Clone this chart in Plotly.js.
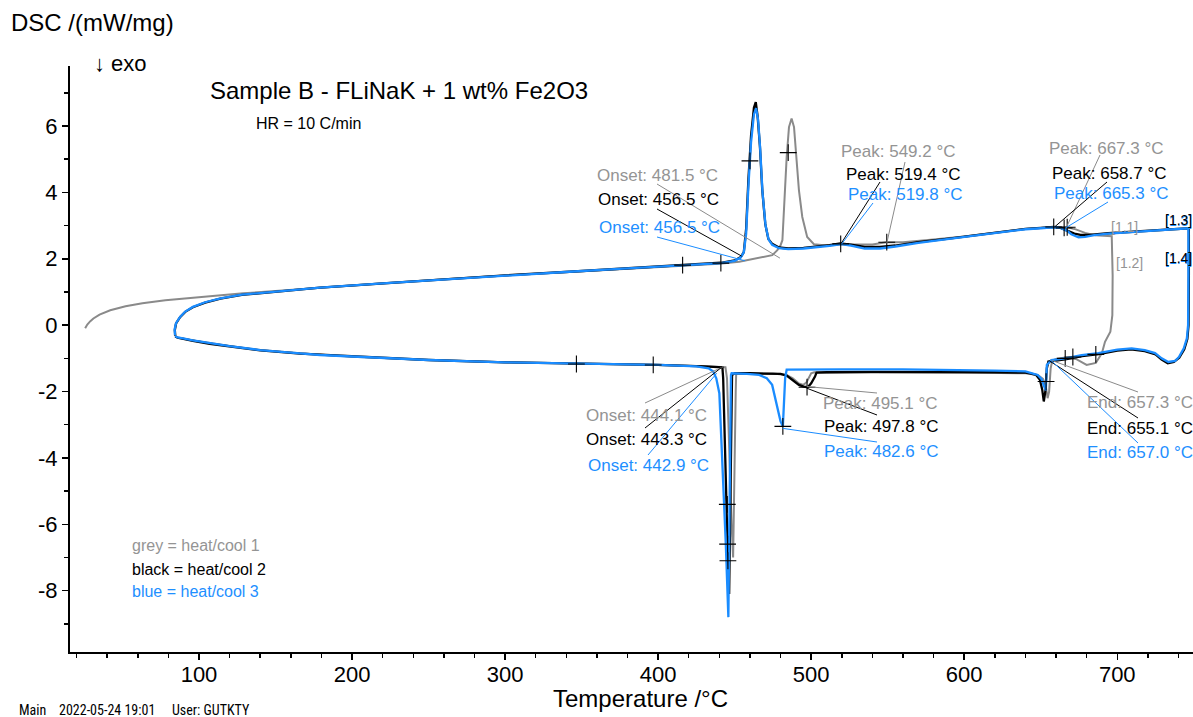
<!DOCTYPE html>
<html>
<head>
<meta charset="utf-8">
<script src="https://cdn.plot.ly/plotly-3.0.1.min.js"></script>
<style>
html,body{margin:0;padding:0;background:#fff;}
#chart{width:1193px;height:717px;}
</style>
</head>
<body>
<div id="chart"></div>
<script>
// ---------- DATA ----------
// Run 1 (grey): heating from room temperature, then cooling
const greyT = [25.6,27,29,31,35,42,52,63,78,92,110,129,150,179,220,260,300,342,380,416,440,453,466,474.6,477.9,480,481.2,482.3,484,485.5,487.2,488.8,490.3,492,494.2,497.4,501.8,510,520,530,540,549,560,580,600,622,640,655,662,667,672,679,685.6,690,696.4,
  697,696.8,695.5,692,690,686,680,673,665,660,657.5,656.5,655.5,654.5,653.5,651.5,648,640,600,560,520,502,500,499,497,495,492,488,484,475,460,451,450.7,450,449,448,446.5,445,444,430,400,350,300,250,200,166,140,120,107,96,89.6,86];
const greyDSC = [-0.09,0.02,0.12,0.2,0.32,0.45,0.57,0.66,0.75,0.81,0.89,0.96,1.03,1.13,1.26,1.38,1.5,1.6,1.7,1.79,1.85,1.91,2.02,2.11,2.26,2.41,2.56,3.56,5.07,5.97,6.23,5.97,5.07,4.07,3.26,2.66,2.44,2.4,2.43,2.42,2.43,2.5,2.5,2.58,2.67,2.8,2.9,2.94,2.95,2.96,2.9,2.78,2.71,2.7,2.68,
  1.5,0.3,-0.2,-0.5,-0.84,-1.14,-1.2,-1.02,-0.98,-1.02,-1.07,-1.3,-2.0,-2.2,-1.9,-1.62,-1.5,-1.45,-1.43,-1.42,-1.42,-1.42,-1.45,-1.55,-1.72,-1.8,-1.76,-1.6,-1.5,-1.46,-1.45,-1.45,-2.0,-4.5,-7.0,-6.0,-3.5,-1.6,-1.27,-1.24,-1.2,-1.17,-1.12,-1.05,-0.95,-0.85,-0.75,-0.63,-0.55,-0.46,-0.4,-0.37];

// Run 2 (black)
const blackT = [84.5,84.2,85,87.6,91,96,104,114,128,140,160,179,220,260,300,342,380,416,441,450,454,456,457.5,459,460.7,462.6,463.8,465,466.5,468,470,472,474.5,479,485,495,505,512,519,526,535,545,555,570,590,610,622,640,650,658.5,663,668,672,676,682,694,710,730,746.8,
  746.8,746.6,745.8,743.8,740.5,737,733,729,725,718,709,700,688,677,666,660,655,654,653,652,651,649.5,647,643,640,620,580,540,510,503.5,502.5,500,497.8,495,492,488,484,480,470,460,450,448.3,448,447.3,446.4,445,443.5,442.5,442,430,400,350,300,250,200,179,166,140,120,107,96,89.6,86,84.5];
const blackDSC = [-0.32,-0.15,0.05,0.24,0.4,0.54,0.68,0.8,0.91,0.97,1.05,1.13,1.26,1.38,1.5,1.61,1.71,1.81,1.88,1.95,2.05,2.2,2.9,4.4,5.7,6.55,6.72,6.3,5.4,4.1,3.05,2.6,2.45,2.34,2.31,2.33,2.37,2.41,2.46,2.43,2.36,2.36,2.4,2.5,2.61,2.73,2.81,2.9,2.93,2.96,2.93,2.84,2.76,2.72,2.72,2.77,2.82,2.87,2.92,
  1.5,0.0,-0.42,-0.73,-0.98,-1.11,-1.15,-1.04,-0.88,-0.78,-0.73,-0.77,-0.87,-0.93,-1.03,-1.06,-1.1,-1.3,-2.0,-2.3,-1.95,-1.65,-1.5,-1.45,-1.43,-1.42,-1.41,-1.41,-1.42,-1.43,-1.55,-1.75,-1.87,-1.85,-1.8,-1.66,-1.52,-1.47,-1.45,-1.45,-1.45,-1.5,-2.5,-6.0,-8.1,-6.0,-3.0,-1.6,-1.27,-1.24,-1.2,-1.17,-1.12,-1.05,-0.95,-0.9,-0.86,-0.76,-0.64,-0.56,-0.47,-0.41,-0.38,-0.34];

// Run 3 (blue)
const blueT = [84.3,84.1,85,87.6,91,96,104,114,128,140,160,179,220,260,300,342,380,416,441,450,454,456,457.5,459,460.7,462.6,464,465.3,466.7,468.2,470.2,472.2,474.5,479,485,495,505,512,519.8,526,535,545,555,570,590,610,622,640,650,658,663,667,670,674.7,679,685,694.3,710,730,746.5,
  746.5,746.3,745.5,743.5,740.5,737.8,733.4,729,724.7,718,709.4,700,687.7,676.7,666,660,657,654,653.3,652,650.5,648,643,640,620,600,560,520,490,484,483,482,481.5,480,478,476,474.5,471,466,458,448,447.6,447.3,446.8,445.9,444.2,442,440,438,436,433,425,400,350,300,250,200,179,166,140,120,107,96,89.6,86,84.3];
const blueDSC = [-0.3,-0.12,0.06,0.25,0.41,0.55,0.69,0.81,0.92,0.97,1.05,1.13,1.26,1.38,1.5,1.61,1.71,1.81,1.87,1.94,2.04,2.2,2.75,4.2,5.5,6.35,6.54,6.2,5.3,4.0,3.0,2.58,2.42,2.32,2.29,2.31,2.35,2.39,2.44,2.4,2.31,2.31,2.37,2.48,2.6,2.72,2.8,2.89,2.92,2.95,2.93,2.85,2.74,2.65,2.66,2.71,2.76,2.81,2.86,2.92,
  1.5,0.0,-0.4,-0.7,-0.95,-1.08,-1.11,-1.0,-0.84,-0.75,-0.7,-0.74,-0.84,-0.9,-1.0,-1.03,-1.05,-1.2,-1.96,-1.82,-1.62,-1.5,-1.42,-1.39,-1.37,-1.35,-1.33,-1.33,-1.33,-1.34,-1.6,-2.6,-3.05,-2.9,-2.5,-2.05,-1.8,-1.6,-1.5,-1.47,-1.45,-1.5,-3.0,-6.0,-8.8,-6.57,-4.07,-2.05,-1.6,-1.4,-1.3,-1.24,-1.2,-1.17,-1.12,-1.05,-0.95,-0.9,-0.85,-0.75,-0.63,-0.55,-0.46,-0.4,-0.37,-0.33];

// Characteristic points ("+" marks)
const crossT   = [416,441,460,485,519.3,549.4,658.5,665.3,667.3,346.6,396.8,445.2,445.4,445.6,497.3,481.5,653.5,666,671,686];
const crossDSC = [1.81,1.87,4.95,5.2,2.45,2.5,2.96,2.93,2.95,-1.17,-1.2,-5.4,-6.6,-7.1,-1.87,-3.05,-1.7,-1.0,-0.96,-0.88];

// Tick values and labels (hyphen minus as in the original)
const xTickVals = [100,200,300,400,500,600,700];
const xTickText = ['100','200','300','400','500','600','700'];
const yTickVals = [-8,-6,-4,-2,0,2,4,6];
const yTickText = ['-8','-6','-4','-2','0','2','4','6'];

// Evaluation labels and the points they refer to
const evalLabels = [
  'Onset: 481.5 °C','Onset: 456.5 °C','Onset: 456.5 °C',
  'Peak: 549.2 °C','Peak: 519.4 °C','Peak: 519.8 °C',
  'Peak: 667.3 °C','Peak: 658.7 °C','Peak: 665.3 °C',
  'Onset: 444.1 °C','Onset: 443.3 °C','Onset: 442.9 °C',
  'Peak: 495.1 °C','Peak: 497.8 °C','Peak: 482.6 °C',
  'End: 657.3 °C','End: 655.1 °C','End: 657.0 °C'];
const evalPointT   = [479.6,454.6,456.8, 549.4,519.3,519.8, 667.0,659.3,665.9, 442.6,441.5,438.3, 497.1,497.1,481.4, 656.5,655.5,656.5];
const evalPointDSC = [2.02,2.08,1.94, 2.47,2.44,2.44, 2.97,2.97,2.92, -1.25,-1.27,-1.45, -1.85,-1.9,-3.11, -1.05,-1.07,-1.05];
const evalRun = [0,1,2, 0,1,2, 0,1,2, 0,1,2, 0,1,2, 0,1,2];

const runNames = ['grey = heat/cool 1','black = heat/cool 2','blue = heat/cool 3'];
const segLabels = ['[1.1]','[1.2]','[1.3]','[1.4]'];

// ---------- STYLE ----------
const COLORS = ['#8a8a8a','#000000','#1a8cff'];
const TEXTCOL = ['#949494','#000000','#1e8fff'];
const FONT = 'Liberation Sans, Arial, sans-serif';

const XR = [15.7, 749.5], YR = [-9.85, 7.81];
const ML = 70, MR = 0, MT = 66, MB = 65, W = 1193, H = 717;
const PW = W - ML - MR, PH = H - MT - MB;
// pixel -> paper / data helpers for label placement
const PX = px => (px - ML) / PW;
const PY = py => (H - MB - py) / PH;
const DX = px => XR[0] + (px - ML) / PW * (XR[1] - XR[0]);
const DY = py => YR[1] - (py - MT) / PH * (YR[1] - YR[0]);

const traces = [
  {x: greyT, y: greyDSC, mode:'lines', line:{color:COLORS[0], width:2}, hoverinfo:'skip'},
  {x: blackT, y: blackDSC, mode:'lines', line:{color:COLORS[1], width:2.3}, hoverinfo:'skip'},
  {x: blueT, y: blueDSC, mode:'lines', line:{color:COLORS[2], width:2.3}, hoverinfo:'skip'},
  {x: crossT, y: crossDSC, mode:'markers', marker:{symbol:'cross-thin', size:12, line:{color:'#000', width:1.1}}, hoverinfo:'skip'}
];

// label placement (pixel positions of text: left x, middle y) and leader tails
const labelPos = [[596,175],[597,200],[598,227],[840,151],[845,174],[847,194],[1048,148],[1051,173],[1053,193],
                  [585,415],[585,439],[587,465],[822,404],[823,427],[823,451],[1086,402],[1086,428],[1086,453]];
const tailPos  = [[657,184],[657,209],[657,237],[905,162],[880,182],[873,203],[1100,155],[1107,182],[1108,202],
                  [645,403],[645,428],[648,455],[877,393],[877,415],[877,442],[1138,392],[1138,418],[1138,443]];

const annotations = [];
const shapes = [];
function txt(text, px, py, size, color, family, anchor) {
  annotations.push({text:text, xref:'paper', yref:'paper', x:PX(px), y:PY(py),
    xanchor:anchor||'left', yanchor:'middle', showarrow:false, borderpad:0,
    font:{family:family||FONT, size:size, color:color}});
}
evalLabels.forEach((t,i) => {
  const r = evalRun[i];
  shapes.push({type:'line', xref:'x', yref:'y', x0:DX(tailPos[i][0]), y0:DY(tailPos[i][1]),
    x1:evalPointT[i], y1:evalPointDSC[i], line:{color:COLORS[r], width:1}});
  txt(t, labelPos[i][0], labelPos[i][1], 17, TEXTCOL[r]);
});

const NARROW = 'Liberation Sans Narrow, Arial Narrow, Roboto Condensed, Liberation Sans, sans-serif';
txt('DSC /(mW/mg)', 10, 23, 24, '#000');
txt('↓ exo', 93, 64, 22, '#000');
txt('Sample B - FLiNaK + 1 wt% Fe2O3', 209, 90, 24, '#000');
txt('HR = 10 C/min', 255, 123, 16, '#000');
txt('Temperature /°C', 640, 698, 24, '#000', FONT, 'center');
txt(runNames[0], 131, 545, 16, TEXTCOL[0]);
txt(runNames[1], 131, 569, 16, TEXTCOL[1]);
txt(runNames[2], 131, 591, 16, TEXTCOL[2]);
txt(segLabels[0], 1110, 227, 14, TEXTCOL[0]);
txt(segLabels[1], 1115, 263, 14, TEXTCOL[0]);
txt(segLabels[2], 1164, 221, 14, TEXTCOL[2]);
txt(segLabels[2], 1164, 220, 14, TEXTCOL[1]);
txt(segLabels[3], 1164, 259, 14, TEXTCOL[2]);
txt(segLabels[3], 1164, 258, 14, TEXTCOL[1]);
txt('Main', 18, 710, 14, '#000', NARROW);
txt('2022-05-24 19:01', 58, 710, 14, '#000', NARROW);
txt('User: GUTKTY', 171, 710, 14, '#000', NARROW);

const layout = {
  width: W, height: H,
  margin: {l:ML, r:MR, t:MT, b:MB, pad:0},
  paper_bgcolor:'#fff', plot_bgcolor:'#fff',
  showlegend:false,
  font:{family:FONT, color:'#000'},
  xaxis: {
    range: XR, showgrid:false, zeroline:false,
    showline:true, linecolor:'#000', linewidth:2,
    ticks:'outside', ticklen:6, tickwidth:1.5, tickcolor:'#000',
    tickmode:'array', tickvals:xTickVals, ticktext:xTickText,
    ticklabelstandoff:-4,
    minor:{tick0:0, dtick:20, ticks:'outside', ticklen:4, tickwidth:1.5, tickcolor:'#000', showgrid:false},
    tickfont:{family:FONT, size:22, color:'#000'}
  },
  yaxis: {
    range: YR, showgrid:false, zeroline:false,
    showline:true, linecolor:'#000', linewidth:2,
    ticks:'outside', ticklen:6, tickwidth:1.5, tickcolor:'#000',
    tickmode:'array', tickvals:yTickVals, ticktext:yTickText,
    minor:{tick0:0, dtick:1, ticks:'outside', ticklen:4, tickwidth:1.5, tickcolor:'#000', showgrid:false},
    tickfont:{family:FONT, size:22, color:'#000'}
  },
  annotations: annotations,
  shapes: shapes
};

Plotly.newPlot('chart', traces, layout, {displayModeBar:false, staticPlot:true});
</script>
</body>
</html>
